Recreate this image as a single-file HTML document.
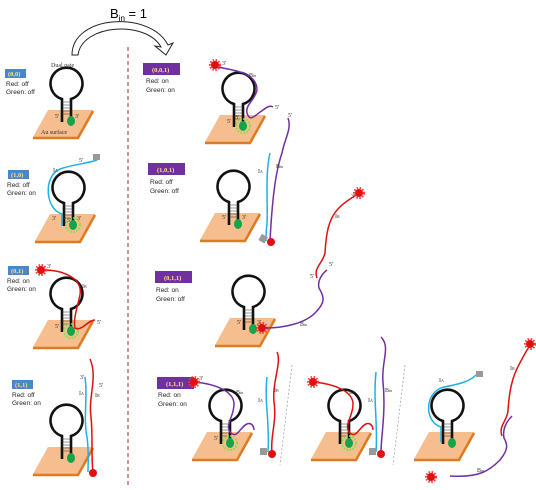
<!DOCTYPE html>
<html><head><meta charset="utf-8"><style>
body{margin:0;background:#fff}
svg{display:block;font-family:"Liberation Serif",serif}
.lbl{font-family:"Liberation Sans",sans-serif;font-size:6.5px;fill:#222}
.tag{font-size:6.5px;fill:#ffe27a;font-weight:bold}
.p{font-size:6px;fill:#333}
</style></head><body>
<svg width="536" height="490" viewBox="0 0 536 490">
<defs>
<g id="surf">
<polygon points="15,0 60,0 45,27 0,27" fill="#f6bd8e"/>
<polyline points="0,28 45,28 60,1" fill="none" stroke="#e07a1f" stroke-width="2.5"/>
</g>
<g id="hp">
<path d="M29,12 L29,-11 A16,16 0 1,1 38,-11 L38,10" fill="none" stroke="#111" stroke-width="2.6"/>
<path d="M29,-8 H38 M29,-5 H38 M29,-2 H38 M29,1 H38 M29,4 H38" stroke="#333" stroke-width="0.6"/>
<ellipse cx="38" cy="11" rx="4" ry="5" fill="#14a54a"/>
</g>
<g id="glow"><circle cx="38" cy="11" r="7" fill="none" stroke="#7ee04a" stroke-width="2" stroke-dasharray="1.5 1.5"/></g>
<g id="red"><circle r="5" fill="none" stroke="#f33" stroke-width="2" stroke-dasharray="1.5 1.5"/><circle r="4" fill="#e01010"/></g>
</defs>

<text x="110" y="18" font-family="Liberation Sans,sans-serif" font-size="13">B<tspan font-size="8" dy="3">in</tspan><tspan dy="-3"> = 1</tspan></text>
<path d="M72,55 C72,15 150,10 168,45 L173,43 L166,55 L155,46 L161,47 C146,20 82,24 78,55 Z" fill="#fff" stroke="#222" stroke-width="1"/>
<line x1="128" y1="47" x2="128" y2="485" stroke="#b22" stroke-width="1" stroke-dasharray="4 3"/>

<g>
<rect x="5" y="69" width="21" height="9" fill="#4a86c8"/><text class="tag" x="8" y="76">(0,0)</text>
<text class="lbl" x="6" y="86">Red: off</text><text class="lbl" x="6" y="94">Green: off</text>
<g transform="translate(33,110)"><use href="#surf"/><use href="#hp"/><text class="p" x="22" y="8">5'</text><text class="p" x="42" y="8">3'</text><text class="p" x="8" y="24">Au surface</text><text class="p" x="18" y="-43" font-size="7">Dual gate</text></g>
</g>
<g>
<rect x="8" y="170" width="21" height="9" fill="#4a86c8"/><text class="tag" x="11" y="177">(1,0)</text>
<text class="lbl" x="7" y="187">Red: off</text><text class="lbl" x="7" y="195">Green: on</text>
<g transform="translate(35,214)"><use href="#surf"/><use href="#hp"/><use href="#glow"/>
<path d="M27,12 L27,0 C10,-5 8,-38 25,-45 C40,-50 50,-50 62,-54" fill="none" stroke="#1fb0e6" stroke-width="1.5"/>
<rect x="58" y="-60" width="7" height="6" fill="#999"/><text class="p" x="44" y="-52">5'</text><text class="p" x="18" y="-42">I<tspan font-size="4">A</tspan></text>
<text class="p" x="17" y="6">3'</text><text class="p" x="32" y="8">5'</text><text class="p" x="42" y="6">3'</text></g>
</g>
<g>
<rect x="8" y="266" width="21" height="9" fill="#4a86c8"/><text class="tag" x="11" y="273">(0,1)</text>
<text class="lbl" x="7" y="283">Red: on</text><text class="lbl" x="7" y="291">Green: on</text>
<g transform="translate(33,320)"><use href="#surf"/><use href="#hp"/><use href="#glow"/>
<path d="M10,-50 C30,-50 50,-42 47,-25 C44,-12 40,0 42,8 C48,12 55,0 62,0" fill="none" stroke="#e01010" stroke-width="1.5"/>
<use href="#red" transform="translate(8,-50)"/><text class="p" x="14" y="-52">3'</text><text class="p" x="49" y="-32">I<tspan font-size="4">B</tspan></text>
<text class="p" x="64" y="4">5'</text><text class="p" x="22" y="8">5'</text></g>
</g>
<g>
<rect x="12" y="380" width="21" height="9" fill="#4a86c8"/><text class="tag" x="15" y="387">(1,1)</text>
<text class="lbl" x="12" y="397">Red: off</text><text class="lbl" x="12" y="405">Green: on</text>
<g transform="translate(33,447)"><use href="#surf"/><use href="#hp"/>
<path d="M52,-70 C55,-50 50,-30 54,-10 C56,5 55,15 55,25" fill="none" stroke="#1fb0e6" stroke-width="1.5"/>
<path d="M57,-88 C65,-70 55,-50 58,-30 C60,-10 58,10 60,25" fill="none" stroke="#e01010" stroke-width="1.5"/>
<circle cx="60" cy="26" r="4" fill="#e01010"/><text class="p" x="46" y="-52">I<tspan font-size="4">A</tspan></text><text class="p" x="62" y="-50">I<tspan font-size="4">B</tspan></text>
<text class="p" x="47" y="-68">3'</text><text class="p" x="66" y="-60">5'</text></g>
</g>

<g>
<rect x="143" y="63" width="37" height="12" fill="#7030a0"/><text class="tag" x="152" y="72">(0,0,1)</text>
<text class="lbl" x="146" y="83">Red: on</text><text class="lbl" x="146" y="92">Green: on</text>
<g transform="translate(205,115)"><use href="#surf"/><use href="#hp"/><use href="#glow"/>
<path d="M12,-48 C30,-45 52,-42 52,-25 C50,-15 40,-10 42,-2 C45,8 50,0 58,-5 C62,-8 65,-10 68,-8" fill="none" stroke="#7030a0" stroke-width="1.5"/>
<use href="#red" transform="translate(10,-50)"/><text class="p" x="17" y="-50">3'</text><text class="p" x="44" y="-38">B<tspan font-size="4">in</tspan></text>
<text class="p" x="70" y="-6">5'</text><text class="p" x="22" y="8">5'</text><text class="p" x="30" y="4">3'</text></g>
</g>
<g>
<rect x="148" y="163" width="37" height="12" fill="#7030a0"/><text class="tag" x="157" y="172">(1,0,1)</text>
<text class="lbl" x="150" y="184">Red: off</text><text class="lbl" x="150" y="193">Green: off</text>
<g transform="translate(200,213)"><use href="#surf"/><use href="#hp"/><text class="p" x="22" y="6">5'</text><text class="p" x="42" y="6">3'</text>
<path d="M70,-60 C65,-40 68,-10 67,10 C66,20 66,25 66,28" fill="none" stroke="#1fb0e6" stroke-width="1.5"/>
<path d="M88,-95 C92,-85 85,-75 82,-60 C75,-40 72,-10 70,28" fill="none" stroke="#7030a0" stroke-width="1.5"/>
<circle cx="71" cy="29" r="4" fill="#e01010"/><rect x="60" y="22" width="7" height="7" fill="#999" transform="rotate(30 63 25)"/>
<text class="p" x="58" y="-40">I<tspan font-size="4">A</tspan></text><text class="p" x="76" y="-45">B<tspan font-size="4">in</tspan></text><text class="p" x="88" y="-96">5'</text></g>
</g>
<g>
<rect x="155" y="271" width="37" height="12" fill="#7030a0"/><text class="tag" x="164" y="280">(0,1,1)</text>
<text class="lbl" x="156" y="292">Red: on</text><text class="lbl" x="156" y="301">Green: off</text>
<g transform="translate(215,318)"><use href="#surf"/><use href="#hp"/><text class="p" x="22" y="6">5'</text><text class="p" x="42" y="6">3'</text>
<use href="#red" transform="translate(47,10)"/>
<path d="M50,10 C70,10 90,5 100,-5 C110,-15 110,-20 104,-30 C102,-38 108,-45 112,-48" fill="none" stroke="#7030a0" stroke-width="1.5"/>
<path d="M102,-40 C98,-50 108,-55 110,-65 C112,-100 118,-110 145,-125" fill="none" stroke="#e01010" stroke-width="1.5"/>
<use href="#red" transform="translate(144,-125)"/><text class="p" x="136" y="-120">3'</text><text class="p" x="120" y="-100">I<tspan font-size="4">B</tspan></text>
<text class="p" x="85" y="8">B<tspan font-size="4">in</tspan></text><text class="p" x="114" y="-52">5'</text><text class="p" x="95" y="-40">5'</text></g>
</g>
<g>
<rect x="157" y="377" width="37" height="12" fill="#7030a0"/><text class="tag" x="166" y="386">(1,1,1)</text>
<text class="lbl" x="158" y="397">Red: on</text><text class="lbl" x="158" y="406">Green: on</text>
<g transform="translate(192,432)"><use href="#surf"/><use href="#hp"/><use href="#glow"/><text class="p" x="22" y="8">5'</text>
<path d="M2,-50 C25,-48 42,-40 42,-28 C42,-15 33,-8 38,0 C45,8 48,-5 55,-8 C60,-10 62,-5 62,-2" fill="none" stroke="#7030a0" stroke-width="1.5"/>
<use href="#red" transform="translate(2,-50)"/><text class="p" x="7" y="-52">3'</text><text class="p" x="44" y="-38">B<tspan font-size="4">in</tspan></text>
<path d="M75,-55 C72,-30 78,-10 76,20" fill="none" stroke="#1fb0e6" stroke-width="1.5"/>
<path d="M85,-80 C90,-70 80,-50 82,-30 C85,-10 78,5 80,20" fill="none" stroke="#e01010" stroke-width="1.5"/>
<circle cx="80" cy="22" r="4" fill="#e01010"/><rect x="68" y="16" width="7" height="7" fill="#999"/>
<text class="p" x="66" y="-30">I<tspan font-size="4">A</tspan></text><text class="p" x="82" y="-40">I<tspan font-size="4">B</tspan></text></g>
<line x1="292" y1="365" x2="280" y2="465" stroke="#888" stroke-width="0.6" stroke-dasharray="2 2"/>
<g transform="translate(311,432)"><use href="#surf"/><use href="#hp"/><use href="#glow"/>
<path d="M2,-50 C25,-48 42,-40 42,-28 C42,-15 33,-8 38,0 C45,8 48,-5 55,-8 C60,-10 62,-5 62,-2" fill="none" stroke="#e01010" stroke-width="1.5"/>
<use href="#red" transform="translate(2,-50)"/><text class="p" x="38" y="-38">I<tspan font-size="4">B</tspan></text>
<path d="M65,-60 C62,-30 67,-10 65,20" fill="none" stroke="#1fb0e6" stroke-width="1.5"/>
<path d="M70,-95 C80,-85 70,-70 72,-50 C75,-20 70,5 70,20" fill="none" stroke="#7030a0" stroke-width="1.5"/>
<circle cx="70" cy="22" r="4" fill="#e01010"/><rect x="58" y="16" width="7" height="7" fill="#999"/>
<text class="p" x="57" y="-30">I<tspan font-size="4">A</tspan></text><text class="p" x="74" y="-40">B<tspan font-size="4">in</tspan></text></g>
<line x1="405" y1="365" x2="393" y2="465" stroke="#888" stroke-width="0.6" stroke-dasharray="2 2"/>
<g transform="translate(414,432)"><use href="#surf"/><use href="#hp"/>
<path d="M27,10 L27,-5 C10,-10 10,-40 30,-45 C45,-48 55,-50 62,-57" fill="none" stroke="#1fb0e6" stroke-width="1.5"/>
<rect x="62" y="-61" width="7" height="6" fill="#999"/><text class="p" x="25" y="-50">I<tspan font-size="4">A</tspan></text></g>
<path d="M450,476 C480,478 490,470 500,460 C508,450 508,445 504,438 C502,428 508,420 512,416" fill="none" stroke="#7030a0" stroke-width="1.5"/>
<path d="M502,436 C498,426 508,420 508,410 C510,380 515,370 530,345" fill="none" stroke="#e01010" stroke-width="1.5"/>
<use href="#red" transform="translate(431,477)"/><use href="#red" transform="translate(530,344)"/>
<text class="p" x="477" y="472">B<tspan font-size="4">in</tspan></text><text class="p" x="510" y="370">I<tspan font-size="4">B</tspan></text>
</g>
</svg>
</body></html>
